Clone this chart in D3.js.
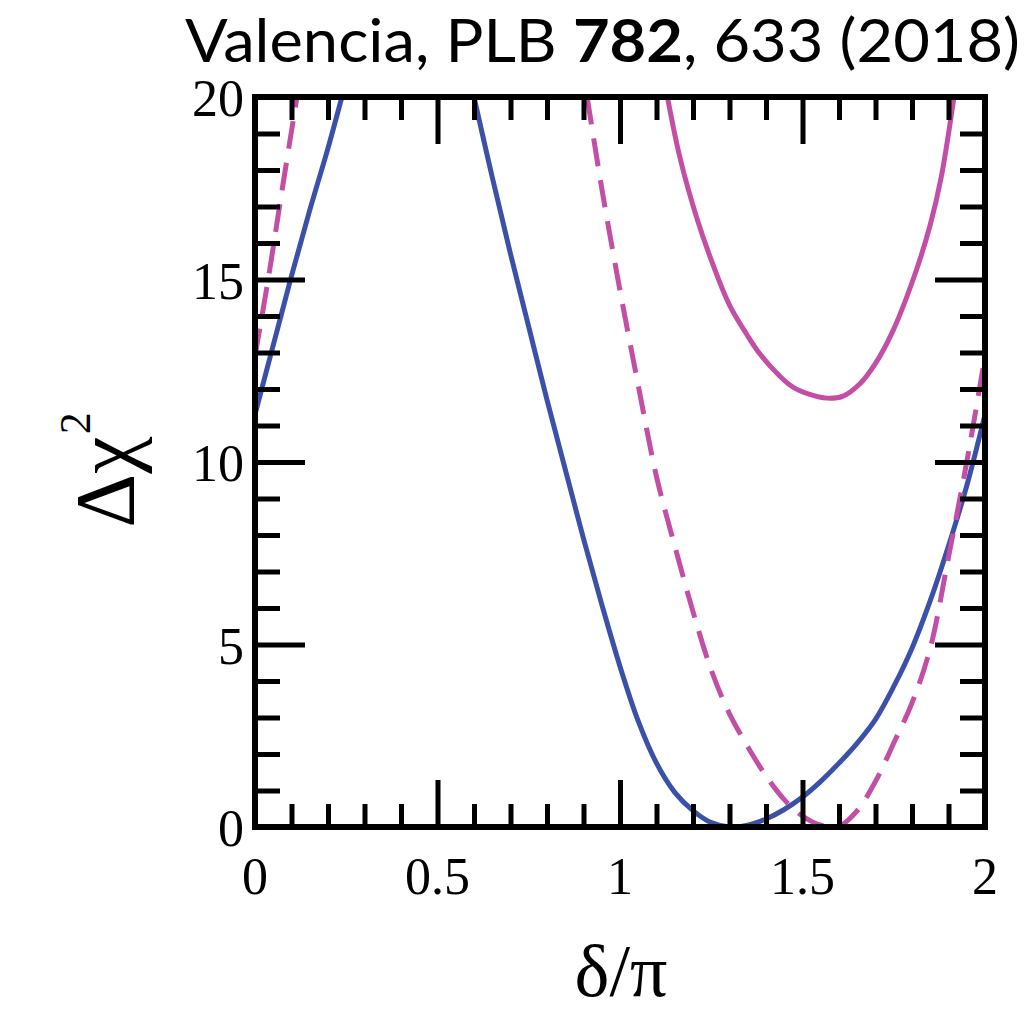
<!DOCTYPE html>
<html>
<head>
<meta charset="utf-8">
<script src="https://cdn.jsdelivr.net/npm/d3@7"></script>
<style>
  body { margin: 0; background: #fff; }
  .tick-label { font-family: 'Liberation Serif', 'Times New Roman', serif; font-size: 52px; fill: #000; }
</style>
</head>
<body>
<div id="chart"></div>
<script>
// Curves (delta/pi, delta chi^2); null splits a curve where it leaves the frame
const deltaBlue = [0, 0.05, 0.1, 0.15, 0.2, 0.238, null,
  0.6, 0.65, 0.7, 0.75, 0.8, 0.85, 0.9, 0.95, 1.0, 1.05, 1.1, 1.15, 1.2, 1.25, 1.3,
  1.35, 1.4, 1.45, 1.5, 1.55, 1.6, 1.65, 1.7, 1.75, 1.8, 1.85, 1.9, 1.95, 2.0]
const chi2Blue = [11.3, 13.2, 15.1, 16.9, 18.6, 20, null,
  20, 17.8, 15.7, 13.7, 11.7, 9.8, 7.9, 6.1, 4.4, 2.9, 1.75, 0.95, 0.45, 0.12, 0,
  0.05, 0.22, 0.48, 0.82, 1.25, 1.75, 2.3, 2.95, 3.85, 4.9, 6.2, 7.7, 9.35, 11.3]

const deltaDashed = [0, 0.036, 0.075, 0.115, null,
  0.91, 0.95, 1.0, 1.05, 1.1, 1.15, 1.2, 1.25, 1.3, 1.35, 1.4, 1.45, 1.5, 1.55, 1.6,
  1.65, 1.7, 1.75, 1.8, 1.85, 1.9, 1.95, 2.0]
const chi2Dashed = [12.9, 15.0, 17.5, 20, null,
  20, 17.5, 14.7, 12.1, 9.6, 7.7, 5.9, 4.3, 3.1, 2.2, 1.4, 0.75, 0.3, 0.05, 0.02,
  0.45, 1.25, 2.3, 3.4, 4.9, 7.4, 10.0, 12.9]

const deltaPink = [1.13, 1.164, 1.21, 1.255, 1.30, 1.347, 1.384, 1.438, 1.474, 1.52, 1.567,
  1.61, 1.658, 1.70, 1.748, 1.81, 1.85, 1.88, 1.915]
const chi2Pink = [20, 18.35, 16.7, 15.4, 14.3, 13.5, 12.95, 12.35, 12.05, 11.85, 11.75,
  11.8, 12.15, 12.7, 13.6, 15.2, 16.5, 17.8, 20]

const xTickLabels = [0, 0.5, 1, 1.5, 2]
const yTickLabels = [0, 5, 10, 15, 20]

const width = 1035
const height = 1017
const plot = { left: 255, right: 985, top: 97, bottom: 827 }

const svg = d3.select('#chart')
  .append('svg')
  .attr('width', width)
  .attr('height', height)

const x = d3.scaleLinear().domain([0, 2]).range([plot.left, plot.right])
const y = d3.scaleLinear().domain([0, 20]).range([plot.bottom, plot.top])

// Title
const title = svg.append('text')
  .attr('x', 185)
  .attr('y', 62)
  .attr('textLength', 835)
  .attr('lengthAdjust', 'spacingAndGlyphs')
  .style('font-family', 'Lato, sans-serif')
  .style('font-size', '60px')
title.append('tspan').text('Valencia, PLB ')
title.append('tspan').style('font-weight', 'bold').text('782')
title.append('tspan').text(', 633 (2018)')

// Clip curves to the frame
svg.append('clipPath').attr('id', 'clip')
  .append('rect')
  .attr('x', plot.left).attr('y', plot.top)
  .attr('width', plot.right - plot.left).attr('height', plot.bottom - plot.top)

const line = d3.line()
  .defined(d => d[1] !== null)
  .x(d => x(d[0]))
  .y(d => y(d[1]))
  .curve(d3.curveCatmullRom)

const curves = svg.append('g').attr('clip-path', 'url(#clip)')

curves.append('path')
  .datum(d3.zip(deltaBlue, chi2Blue))
  .attr('d', line)
  .attr('fill', 'none')
  .attr('stroke', '#3b50a8')
  .attr('stroke-width', 5)

curves.append('path')
  .datum(d3.zip(deltaDashed, chi2Dashed))
  .attr('d', line)
  .attr('fill', 'none')
  .attr('stroke', '#c24fa5')
  .attr('stroke-width', 5)
  .attr('stroke-dasharray', '28,14')

curves.append('path')
  .datum(d3.zip(deltaPink, chi2Pink))
  .attr('d', line)
  .attr('fill', 'none')
  .attr('stroke', '#c24fa5')
  .attr('stroke-width', 5)

// Ticks on all four sides, pointing inward
const minorX = d3.range(1, 20).filter(i => i % 5 !== 0).map(i => i / 10)
const majorX = [0.5, 1, 1.5]
const minorY = d3.range(1, 20).filter(v => v % 5 !== 0)
const majorY = [5, 10, 15]

function styleAxis(g) {
  g.select('.domain').remove()
  g.selectAll('text').remove()
  g.selectAll('line').attr('stroke', '#000').attr('stroke-width', 5)
}

svg.append('g').attr('transform', `translate(0,${plot.bottom})`)
  .call(d3.axisBottom(x).tickValues(minorX).tickSize(-23)).call(styleAxis)
svg.append('g').attr('transform', `translate(0,${plot.bottom})`)
  .call(d3.axisBottom(x).tickValues(majorX).tickSize(-47)).call(styleAxis)
svg.append('g').attr('transform', `translate(0,${plot.top})`)
  .call(d3.axisTop(x).tickValues(minorX).tickSize(-23)).call(styleAxis)
svg.append('g').attr('transform', `translate(0,${plot.top})`)
  .call(d3.axisTop(x).tickValues(majorX).tickSize(-47)).call(styleAxis)

svg.append('g').attr('transform', `translate(${plot.left},0)`)
  .call(d3.axisLeft(y).tickValues(minorY).tickSize(-25)).call(styleAxis)
svg.append('g').attr('transform', `translate(${plot.left},0)`)
  .call(d3.axisLeft(y).tickValues(majorY).tickSize(-50)).call(styleAxis)
svg.append('g').attr('transform', `translate(${plot.right},0)`)
  .call(d3.axisRight(y).tickValues(minorY).tickSize(-25)).call(styleAxis)
svg.append('g').attr('transform', `translate(${plot.right},0)`)
  .call(d3.axisRight(y).tickValues(majorY).tickSize(-50)).call(styleAxis)

// Frame
svg.append('rect')
  .attr('x', plot.left).attr('y', plot.top)
  .attr('width', plot.right - plot.left).attr('height', plot.bottom - plot.top)
  .attr('fill', 'none')
  .attr('stroke', '#000')
  .attr('stroke-width', 6)

// Tick labels
svg.append('g').selectAll('text')
  .data(xTickLabels)
  .enter().append('text')
  .attr('class', 'tick-label')
  .attr('x', d => x(d))
  .attr('y', 894)
  .attr('text-anchor', 'middle')
  .text(d => d)

svg.append('g').selectAll('text')
  .data(yTickLabels)
  .enter().append('text')
  .attr('class', 'tick-label')
  .attr('x', 244)
  .attr('y', d => y(d) + 19)
  .attr('text-anchor', 'end')
  .text(d => d)

// Axis titles
svg.append('text')
  .attr('x', 621)
  .attr('y', 996)
  .attr('text-anchor', 'middle')
  .style('font-family', "'Liberation Serif', serif")
  .style('font-size', '74px')
  .text('δ/π')

const yTitle = svg.append('text')
  .attr('transform', 'translate(134,470) rotate(-90)')
  .attr('text-anchor', 'middle')
  .style('font-family', "'Liberation Serif', serif")
  .style('font-size', '84px')
yTitle.append('tspan').text('Δχ')
yTitle.append('tspan').attr('dy', -44).attr('dx', 2).style('font-size', '44px').text('2')
</script>
</body>
</html>
